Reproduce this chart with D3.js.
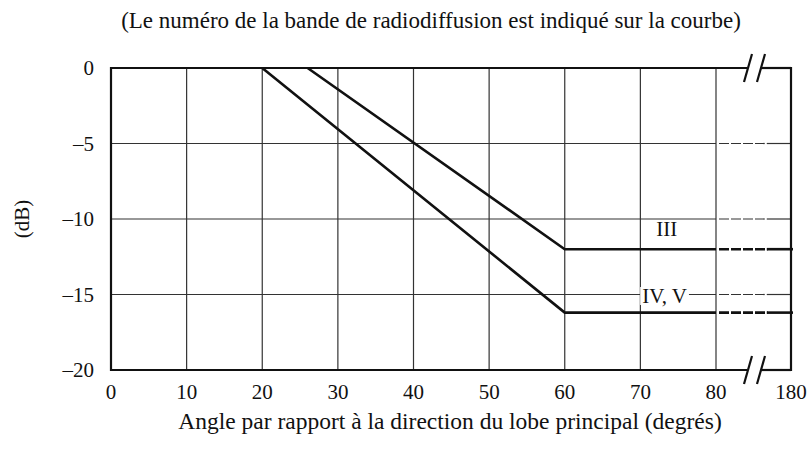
<!DOCTYPE html>
<html lang="fr">
<head>
<meta charset="UTF-8">
<title>Directivité</title>
<script src="https://d3js.org/d3.v7.min.js"></script>
<style>
  body { margin: 0; background: #fff; }
  text { font-family: "Liberation Serif", "Times New Roman", serif; fill: #111; }
</style>
</head>
<body>
<script>
// data
const xTicks = [0, 10, 20, 30, 40, 50, 60, 70, 80, 180];
const yTicks = [0, -5, -10, -15, -20];
const bandIII = { label: "III", angles: [26, 60, 180], values: [0, -12, -12] };
const bandIVV = { label: "IV, V", angles: [20, 60, 180], values: [0, -16.2, -16.2] };
const dashedFrom = 80, dashedTo = 145; // dashed stretch inside the broken part of the axis

const width = 808, height = 451;
const svg = d3.select("body").append("svg")
    .attr("width", width)
    .attr("height", height);

// piecewise scale: 0..80 normal, 80..180 squeezed
const x = d3.scaleLinear().domain([0, 80, 180]).range([111, 716, 791]);
const y = d3.scaleLinear().domain([0, -20]).range([68, 370]);

// title
svg.append("text")
    .attr("x", 431).attr("y", 28)
    .attr("text-anchor", "middle")
    .attr("font-size", 23)
    .text("(Le numéro de la bande de radiodiffusion est indiqué sur la courbe)");

// vertical grid lines
svg.selectAll(".vgrid")
    .data(xTicks.filter(d => d > 0 && d < 180))
    .enter().append("line")
    .attr("x1", d => x(d)).attr("x2", d => x(d))
    .attr("y1", y(0)).attr("y2", y(-20))
    .attr("stroke", "#333").attr("stroke-width", 1.2);

// horizontal grid lines: solid up to 80, dashed, then solid again
const inner = yTicks.filter(d => d < 0 && d > -20);
svg.selectAll(".hgrid")
    .data(inner)
    .enter().append("line")
    .attr("x1", x(0)).attr("x2", x(dashedFrom))
    .attr("y1", d => y(d)).attr("y2", d => y(d))
    .attr("stroke", "#333").attr("stroke-width", 1.2);
svg.selectAll(".hgridDash")
    .data(inner)
    .enter().append("line")
    .attr("x1", x(dashedFrom) + 3).attr("x2", x(dashedTo))
    .attr("y1", d => y(d)).attr("y2", d => y(d))
    .attr("stroke", "#333").attr("stroke-width", 1.2)
    .attr("stroke-dasharray", "10,2");
svg.selectAll(".hgridEnd")
    .data(inner)
    .enter().append("line")
    .attr("x1", x(dashedTo) + 2).attr("x2", x(180))
    .attr("y1", d => y(d)).attr("y2", d => y(d))
    .attr("stroke", "#333").attr("stroke-width", 1.2);

// curve labels (white box knocks out the grid line)
function curveLabel(txt, cx, cy) {
  const g = svg.append("g");
  const t = g.append("text")
      .attr("x", cx).attr("y", cy)
      .attr("text-anchor", "middle")
      .attr("font-size", 21)
      .text(txt);
  const b = t.node().getBBox();
  g.insert("rect", "text")
      .attr("x", b.x - 2).attr("y", b.y + 3)
      .attr("width", b.width + 4).attr("height", b.height - 6)
      .attr("fill", "#fff");
}
curveLabel(bandIII.label, x(73.5), 236);
curveLabel(bandIVV.label, x(73.2), 303);

// curves
const line = d3.line().x(d => x(d[0])).y(d => y(d[1]));
[bandIII, bandIVV].forEach(b => {
  const pts = b.angles.map((a, i) => [a, b.values[i]]);
  const flat = b.values[b.values.length - 1];
  const head = pts.filter(p => p[0] <= dashedFrom).concat([[dashedFrom, flat]]);
  svg.append("path")
      .attr("d", line(head))
      .attr("fill", "none").attr("stroke", "#111").attr("stroke-width", 2.6);
  svg.append("path")
      .attr("d", line([[dashedFrom, flat], [dashedTo, flat]]))
      .attr("transform", "translate(3,0)")
      .attr("fill", "none").attr("stroke", "#111").attr("stroke-width", 2.6)
      .attr("stroke-dasharray", "10,2");
  svg.append("path")
      .attr("d", line([[dashedTo, flat], [180, flat]]))
      .attr("transform", "translate(2,0)")
      .attr("fill", "none").attr("stroke", "#111").attr("stroke-width", 2.6);
});

// frame, with gaps at the axis break
const breakL = 747, breakR = 761;
const frame = svg.append("g").attr("stroke", "#111").attr("stroke-width", 2.2).attr("fill", "none");
[y(0), y(-20)].forEach(yy => {
  frame.append("line").attr("x1", x(0)).attr("x2", breakL).attr("y1", yy).attr("y2", yy);
  frame.append("line").attr("x1", breakR).attr("x2", x(180)).attr("y1", yy).attr("y2", yy);
  [[744, 752], [757, 765]].forEach(s => {
    frame.append("line")
        .attr("x1", s[0]).attr("y1", yy + 14)
        .attr("x2", s[1]).attr("y2", yy - 14);
  });
});
frame.append("line").attr("x1", x(0)).attr("x2", x(0)).attr("y1", y(0) - 1).attr("y2", y(-20) + 1);
frame.append("line").attr("x1", x(180)).attr("x2", x(180)).attr("y1", y(0) - 1).attr("y2", y(-20) + 1);

// tick labels
svg.selectAll(".xl")
    .data(xTicks)
    .enter().append("text")
    .attr("x", d => x(d)).attr("y", 399)
    .attr("text-anchor", "middle")
    .attr("font-size", 21)
    .text(d => d);
svg.selectAll(".yl")
    .data(yTicks)
    .enter().append("text")
    .attr("x", 94).attr("y", d => y(d) + 7)
    .attr("text-anchor", "end")
    .attr("font-size", 21)
    .text(d => d < 0 ? "\u2013" + Math.abs(d) : d);

// axis titles
svg.append("text")
    .attr("transform", `translate(29,${y(-10)}) rotate(-90)`)
    .attr("text-anchor", "middle")
    .attr("font-size", 21)
    .text("(dB)");
svg.append("text")
    .attr("x", 450).attr("y", 429)
    .attr("text-anchor", "middle")
    .attr("font-size", 23.5)
    .text("Angle par rapport à la direction du lobe principal (degrés)");
</script>
</body>
</html>
